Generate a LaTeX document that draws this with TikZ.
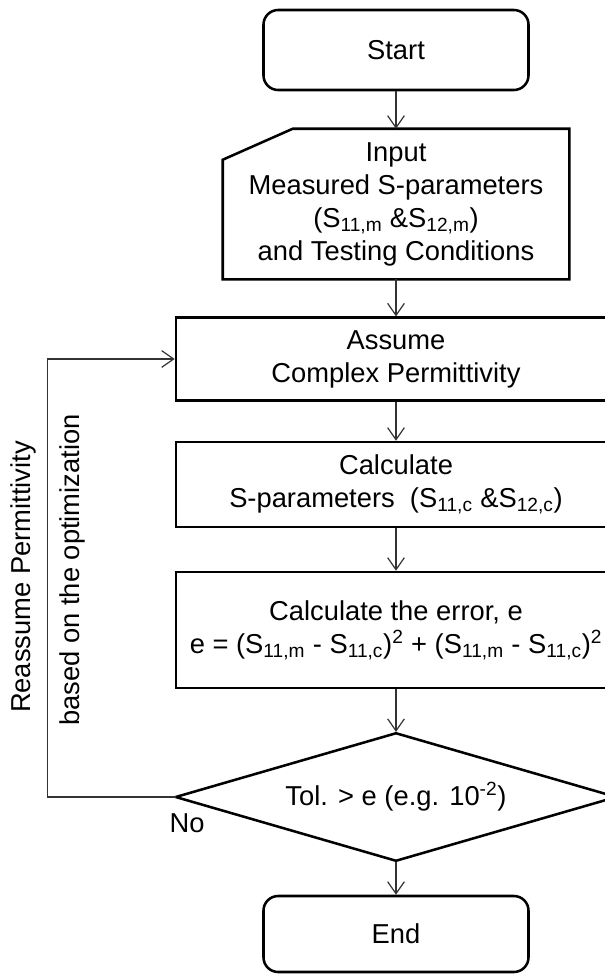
\documentclass[tikz,border=0pt]{standalone}
\usepackage{fontspec}
\setmainfont{Liberation Sans}
\usetikzlibrary{positioning,arrows.meta,shapes.geometric,calc}

\begin{document}
\begin{tikzpicture}[
      x=0.75pt, y=-0.75pt,
      font=\fontsize{20.5}{24.75}\selectfont,
      every node/.style={align=center},
      term/.style={draw, rounded corners=11pt, line width=1.9pt,
                   minimum width=198.75pt, minimum height=60pt},
      proc/.style={draw, line width=1.9pt, inner sep=1pt,
                   minimum width=330pt, minimum height=62pt},
      inbox/.style={inner sep=1pt, minimum width=259.5pt, minimum height=112.5pt},
      dec/.style={inner sep=0pt, minimum width=330pt, minimum height=95.25pt},
      edge/.style={line width=1.9pt, line join=miter},
      flow/.style={-{Straight Barb[length=9pt,width=12.5pt]}, line width=0.9pt, draw=black!80},
      lbl/.style={inner sep=1pt},
  ]
  \useasboundingbox (0,0) rectangle (605,974);
  \clip (0,0) rectangle (605,974);

  % Main column
  \node[term]  (start)  at (396,  50)   {Start};
  \node[inbox] (input)  at (396, 204)   {Input\\Measured S-parameters\\(S\textsubscript{11,m} \&S\textsubscript{12,m})\\and Testing Conditions};
  \node[proc]  (assume) at (396, 359)   {Assume\\Complex Permittivity};
  \node[proc, minimum height=63.75pt] (calc) at (396, 484.5)
        {Calculate\\S-parameters\ \ (S\textsubscript{11,c} \&S\textsubscript{12,c})};
  \node[proc, minimum height=87pt] (error) at (396, 630)
        {Calculate the error, e\\e = (S\textsubscript{11,m} - S\textsubscript{11,c})\textsuperscript{2} + (S\textsubscript{11,m} - S\textsubscript{11,c})\textsuperscript{2}};
  \node[dec]   (test)   at (396, 797)   {Tol. > e (e.g. 10\textsuperscript{-2})};
  \node[term, minimum height=57pt] (end) at (396, 934) {End};

  % Input outline (cut corner) and decision outline
  \draw[edge] ($(input.north west)+(70,0)$) -- (input.north east) -- (input.south east)
    -- (input.south west) -- ($(input.north west)+(0,31)$) -- cycle;
  \draw[edge] (test.north) -- (test.east) -- (test.south) -- (test.west) -- cycle;

  % Connectors
  \draw[flow] (start) -- (input);
  \draw[flow] (input) -- (assume);
  \draw[flow] (assume) -- (calc);
  \draw[flow] (calc) -- (error);
  \draw[flow] (error) -- ([yshift=1pt]test.north);
  \draw[flow] ([yshift=-1pt]test.south) -- (end);

  % Loop back
  \draw[flow] (test.west) -- ++(-128,0) coordinate (back) |- (assume.west);
  \node[lbl] (no) at (187, 823) {No};
  \node[lbl, rotate=90] (reas) at (23, 577) {Reassume Permittivity};
  \node[lbl, rotate=90] (opt)  at (72, 570) {based on the optimization};

\end{tikzpicture}
\end{document}
